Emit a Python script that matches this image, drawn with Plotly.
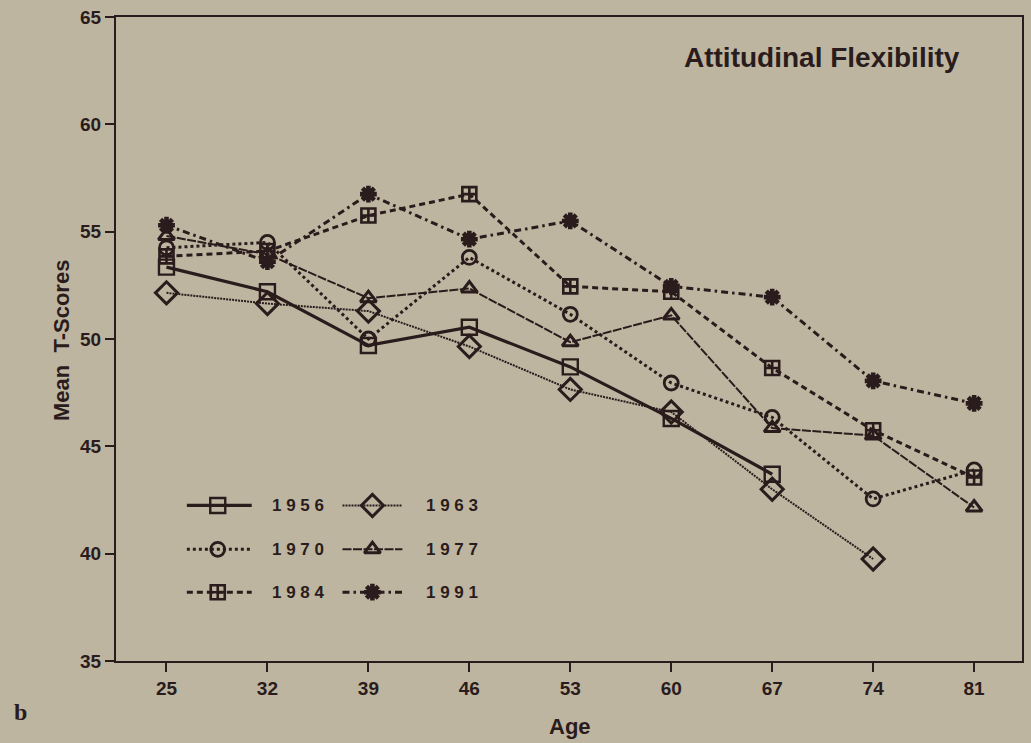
import plotly.graph_objects as go

# Mean T-scores on Attitudinal Flexibility by age, for six cohorts
ages = [25, 32, 39, 46, 53, 60, 67, 74, 81]
cohorts = ["1956", "1963", "1970", "1977", "1984", "1991"]
score_1956 = [53.35, 52.2, 49.7, 50.55, 48.7, 46.3, 43.7]
score_1963 = [52.15, 51.65, 51.3, 49.65, 47.65, 46.6, 43.0, 39.75]
score_1970 = [54.25, 54.5, 50.0, 53.8, 51.15, 47.95, 46.35, 42.55, 43.9]
score_1977 = [54.8, 53.95, 51.9, 52.35, 49.85, 51.1, 45.85, 45.5, 42.15]
score_1984 = [53.85, 54.1, 55.75, 56.75, 52.45, 52.2, 48.65, 45.75, 43.55]
score_1991 = [55.3, 53.6, 56.75, 54.65, 55.5, 52.45, 51.95, 48.05, 47.0]
y_ticks = [35, 40, 45, 50, 55, 60, 65]

INK = "#2a1c1c"
BG = "#beb5a0"
FONT = "Liberation Sans, Arial, sans-serif"

series = [
    (score_1956, dict(width=3.2, dash="solid"), dict(symbol="square-open", size=15, line=dict(width=2.4))),
    (score_1963, dict(width=2.0, dash="2px,1px"), dict(symbol="diamond-open", size=17, line=dict(width=3.0))),
    (score_1970, dict(width=3.0, dash="dot"), dict(symbol="circle-open", size=14, line=dict(width=2.8))),
    (score_1977, dict(width=2.0, dash="9px,1.5px"), dict(symbol="triangle-up-open", size=14, line=dict(width=3.0))),
    (score_1984, dict(width=3.0, dash="6px,4px"), dict(symbol="square-cross-open", size=14, line=dict(width=2.6))),
    (score_1991, dict(width=3.0, dash="7px,4px,2.5px,4px"), dict(symbol="asterisk-open", size=14, line=dict(width=4.6))),
]

fig = go.Figure()

for name, (vals, ln, mk) in zip(cohorts, series):
    fig.add_trace(go.Scatter(
        x=ages[:len(vals)], y=vals, name=name, mode="lines+markers",
        line=dict(color=INK, **ln),
        marker=dict(color=INK, **mk),
        showlegend=False, hoverinfo="x+y+name",
    ))

# Two-column key drawn on an overlay axis spanning the plot area (0..1)
key_rows = [0.2415, 0.1734, 0.1068]
key_cols = [(0.0782, 0.1498, 0.1123, 0.1696), (0.2500, 0.3161, 0.2830, 0.3403)]
for i, (name, (vals, ln, mk)) in enumerate(zip(cohorts, series)):
    row, col = divmod(i, 2)
    x0, x1, xm, xt = key_cols[col]
    yy = key_rows[row]
    fig.add_trace(go.Scatter(
        x=[x0, x1], y=[yy, yy], mode="lines", xaxis="x2", yaxis="y2",
        line=dict(color=INK, **ln), showlegend=False, hoverinfo="skip",
    ))
    fig.add_trace(go.Scatter(
        x=[xm], y=[yy], mode="markers", xaxis="x2", yaxis="y2",
        marker=dict(color=INK, **mk), showlegend=False, hoverinfo="skip",
    ))
    fig.add_annotation(
        x=xt, y=yy, xref="x2", yref="y2", text=" ".join(name),
        showarrow=False, xanchor="left", yanchor="middle",
        font=dict(family=FONT, size=17, color=INK, weight="bold"),
    )

fig.update_layout(
    width=1031, height=743,
    margin=dict(l=116, r=7, t=15, b=82),
    paper_bgcolor=BG, plot_bgcolor=BG,
    font=dict(family=FONT, color=INK),
    xaxis=dict(
        range=[21.5, 84.32], tickvals=ages, ticktext=[str(a) for a in ages],
        ticks="outside", ticklen=9, tickwidth=2, tickcolor=INK,
        showline=True, linewidth=2, linecolor=INK, mirror=True,
        showgrid=False, zeroline=False,
        tickfont=dict(family=FONT, size=19, color=INK, weight="bold"),
    ),
    yaxis=dict(
        range=[35, 65], tickvals=y_ticks,
        ticks="outside", ticklen=9, tickwidth=2, tickcolor=INK,
        showline=True, linewidth=2, linecolor=INK, mirror=True,
        showgrid=False, zeroline=False,
        tickfont=dict(family=FONT, size=19, color=INK, weight="bold"),
    ),
    xaxis2=dict(range=[0, 1], overlaying="x", visible=False, fixedrange=True),
    yaxis2=dict(range=[0, 1], overlaying="y", visible=False, fixedrange=True),
    annotations=list(fig.layout.annotations) + [
        dict(text="Attitudinal Flexibility", xref="paper", yref="paper",
             x=0.9339, y=0.9365, xanchor="right", yanchor="middle", showarrow=False,
             font=dict(family=FONT, size=28, color=INK, weight="bold")),
        dict(text="Mean  T-Scores", xref="paper", yref="paper",
             x=-0.0595, y=0.497, textangle=-90, xanchor="center", yanchor="middle",
             showarrow=False, font=dict(family=FONT, size=22, color=INK, weight="bold")),
        dict(text="Age", xref="paper", yref="paper",
             x=0.501, y=-0.102, xanchor="center", yanchor="middle", showarrow=False,
             font=dict(family=FONT, size=22, color=INK, weight="bold")),
        dict(text="b", xref="paper", yref="paper",
             x=-0.1057, y=-0.079, xanchor="center", yanchor="middle", showarrow=False,
             font=dict(family="Liberation Serif, Times New Roman, serif", size=24,
                       color=INK, weight="bold")),
    ],
)

fig.write_html("out.html")
